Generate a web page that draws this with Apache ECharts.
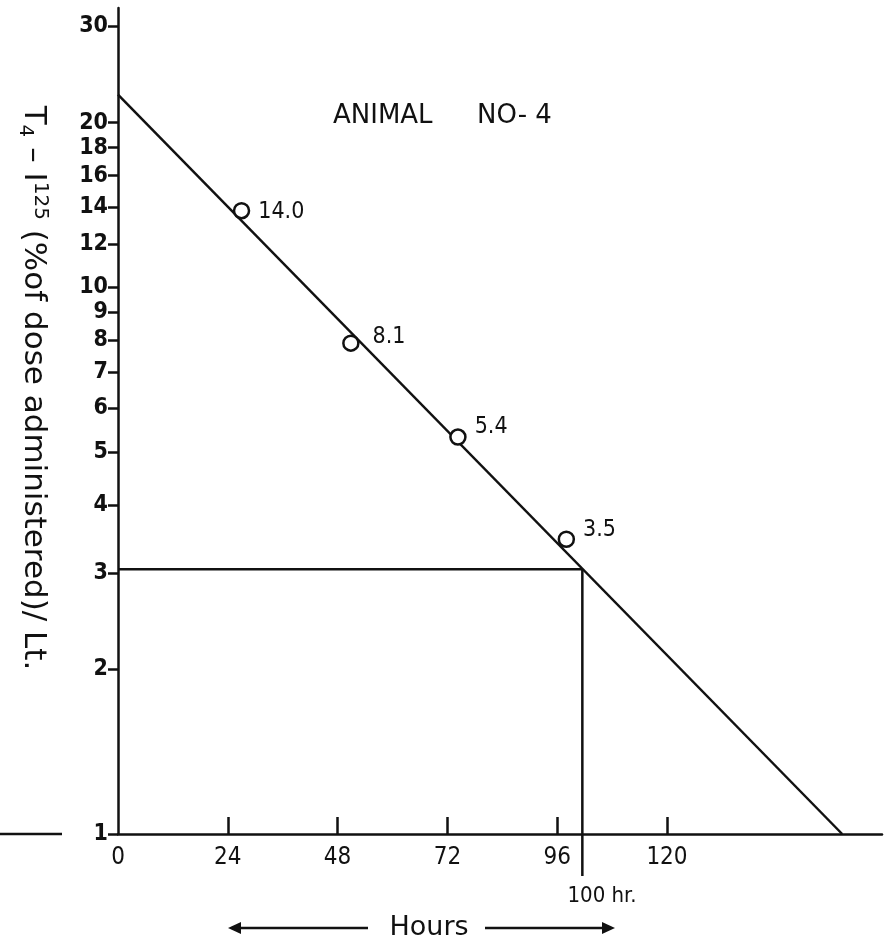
<!DOCTYPE html>
<html>
<head>
<meta charset="utf-8">
<script src="https://cdn.jsdelivr.net/npm/echarts@6/dist/echarts.min.js"></script>
<style>
html,body{margin:0;padding:0;background:#fff;}
#c{width:885px;height:946px;}
</style>
</head>
<body>
<div id="c"></div>
<script>
// ---- data ----
const hours = [27.0, 50.9, 74.3, 98.0];
const values = [13.8, 7.9, 5.32, 3.46];
const pointLabels = ['14.0', '8.1', '5.4', '3.5'];
const fitLine = [[0, 22.5], [158.3, 1]];
const readHour = 101.5;
const readLevel = 3.05;
const readBottom = 0.838;
const xTickValues = [24, 48, 72, 96, 120];
const xLabelValues = [0, 24, 48, 72, 96, 120];
const yTickValues = [1, 2, 3, 4, 5, 6, 7, 8, 9, 10, 12, 14, 16, 18, 20, 30];

// ---- styles ----
const INK = '#111';
const FONT = '"DejaVu Sans Condensed", "DejaVu Sans", sans-serif';
const LW = 2.5;
const labelOffsets = [[0, 1], [5, -6], [0, -10], [0, -9]];

const chart = echarts.init(document.getElementById('c'), null, {renderer: 'canvas'});

const scatterData = hours.map((h, i) => ({
  value: [h, values[i]],
  label: {offset: labelOffsets[i]}
}));

const option = {
  backgroundColor: '#fff',
  animation: false,
  grid: {left: 118, right: 3, top: 8, bottom: 112, containLabel: false},
  xAxis: {
    type: 'value', min: 0, max: 167,
    axisLine: {onZero: false, lineStyle: {color: INK, width: LW}},
    axisTick: {show: true, inside: true, length: 17, customValues: xTickValues, lineStyle: {color: INK, width: LW}},
    axisLabel: {customValues: xLabelValues, fontSize: 24, margin: 12, color: INK, fontFamily: FONT},
    splitLine: {show: false}
  },
  yAxis: {
    type: 'log', logBase: 10, min: 1, max: 32.4,
    axisLine: {onZero: false, lineStyle: {color: INK, width: LW}},
    axisTick: {show: true, length: 10, customValues: yTickValues, lineStyle: {color: INK, width: LW}},
    axisLabel: {customValues: yTickValues, fontSize: 23, margin: 10, color: INK, fontFamily: FONT, fontWeight: 'bold'},
    splitLine: {show: false}
  },
  series: [
    {
      type: 'line', data: fitLine, symbol: 'none', silent: true,
      lineStyle: {color: INK, width: LW}
    },
    {
      type: 'line', clip: false, symbol: 'none', silent: true,
      data: [[0, readLevel], [readHour, readLevel], [readHour, readBottom]],
      lineStyle: {color: INK, width: LW}
    },
    {
      type: 'scatter', data: scatterData, symbol: 'circle', symbolSize: 15,
      itemStyle: {color: '#fff', borderColor: INK, borderWidth: 2.5, opacity: 1},
      label: {
        show: true, position: 'right', distance: 8,
        formatter: p => pointLabels[p.dataIndex],
        fontSize: 23, color: INK, fontFamily: FONT
      },
      z: 5
    }
  ],
  graphic: [
    // left extension of the baseline
    {type: 'line', shape: {x1: 0, y1: 834, x2: 62, y2: 834}, style: {stroke: INK, lineWidth: LW}},
    // title
    {type: 'text', left: 333, top: 103, style: {text: 'ANIMAL', font: '26px "DejaVu Sans"', fill: INK}},
    {type: 'text', left: 477, top: 103, style: {text: 'NO- 4', font: '26px "DejaVu Sans"', fill: INK}},
    // y-axis title
    {type: 'text', x: 33, y: 388, rotation: -Math.PI / 2,
     style: {
       text: 'T{sub|4} – I{sup|125} (%of dose administered)/ Lt.',
       font: '31px "DejaVu Sans"', fill: INK,
       align: 'center', verticalAlign: 'middle',
       rich: {
         sub: {fontSize: 20, fontFamily: 'DejaVu Sans', padding: [15, 0, 0, 0], verticalAlign: 'bottom'},
         sup: {fontSize: 20, fontFamily: 'DejaVu Sans', padding: [0, 0, 15, 0], verticalAlign: 'top'}
       }
     }},
    // Hours with arrows
    {type: 'text', x: 429, y: 928, style: {text: 'Hours', font: '27px "DejaVu Sans"', fill: INK, align: 'center', verticalAlign: 'middle'}},
    {type: 'line', shape: {x1: 236, y1: 928, x2: 368, y2: 928}, style: {stroke: INK, lineWidth: LW}},
    {type: 'polygon', shape: {points: [[228, 928], [241, 922], [241, 934]]}, style: {fill: INK}},
    {type: 'line', shape: {x1: 485, y1: 928, x2: 607, y2: 928}, style: {stroke: INK, lineWidth: LW}},
    {type: 'polygon', shape: {points: [[615, 928], [602, 922], [602, 934]]}, style: {fill: INK}},
    // 100 hr label
    {type: 'text', x: 602, y: 896, style: {text: '100 hr.', font: '22px "DejaVu Sans Condensed", "DejaVu Sans"', fill: INK, align: 'center', verticalAlign: 'middle'}}
  ]
};

chart.setOption(option);
</script>
</body>
</html>
